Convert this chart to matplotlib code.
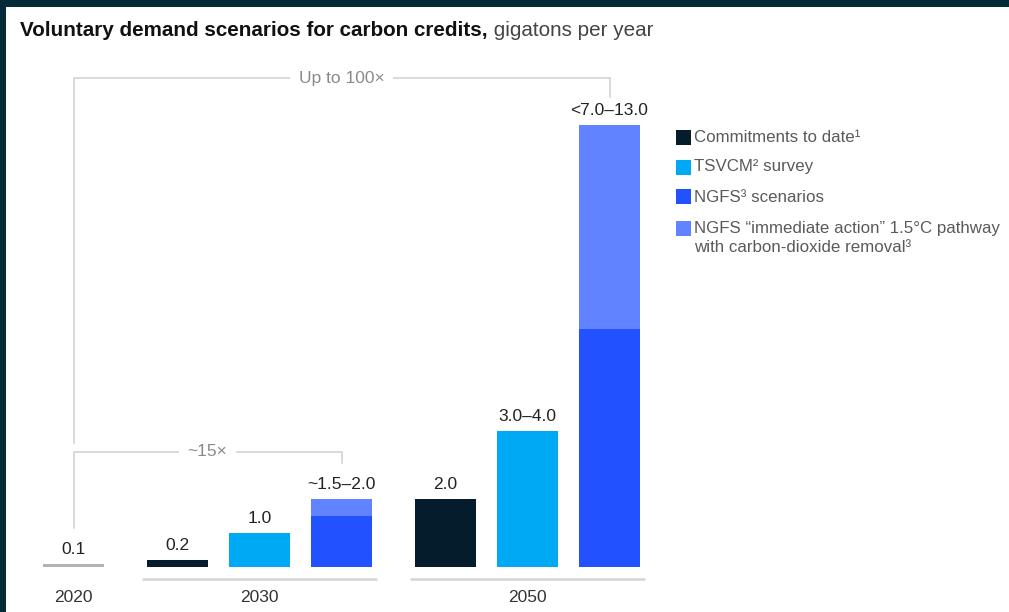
import matplotlib
matplotlib.use("Agg")
import matplotlib.pyplot as plt
from matplotlib.patches import Rectangle

# ---- data (gigatons per year) ----
years = ["2020", "2030", "2050"]
baseline_2020 = 0.1
baseline_2020_label = "0.1"

scenario_names = [
    "Commitments to date¹",
    "TSVCM² survey",
    "NGFS³ scenarios",
    "NGFS “immediate action” 1.5°C pathway\nwith carbon-dioxide removal³",
]
commitments = [0.2, 2.0]          # 2030, 2050
tsvcm_survey = [1.0, 4.0]         # upper end of range
ngfs_scenarios = [1.5, 7.0]       # lower end of NGFS range
ngfs_cdr_total = [2.0, 13.0]      # upper end incl. carbon-dioxide removal

labels_2030 = ["0.2", "1.0", "~1.5–2.0"]
labels_2050 = ["2.0", "3.0–4.0", "<7.0–13.0"]

bracket_labels = ["~15×", "Up to 100×"]

# ---- styling ----
C_COMMIT = "#051C2C"
C_TSVCM = "#00A9F4"
C_NGFS = "#2251FF"
C_CDR = "#6183FF"
C_2020 = "#B3B3B3"
C_BORDER = "#032A36"
C_LINE = "#D2D5D8"
C_BRACKET = "#D0D0D0"

FONT = ["Liberation Sans", "DejaVu Sans"]
plt.rcParams["font.family"] = FONT

W, H = 1009, 612
DPI = 100
PX_Y = 34.0        # pixels per gigaton
BASE_PX = 567      # pixel row of the zero line (from top)
SLOT_PX = 82       # pixel distance between neighbouring bars
X0_PX = 73.5       # pixel column of the 2020 bar centre

fig = plt.figure(figsize=(W / DPI, H / DPI), dpi=DPI)
fig.patch.set_facecolor(C_BORDER)
fig.patches.append(Rectangle((6 / W, 0), 1, (H - 7) / H, transform=fig.transFigure,
                             facecolor="white", edgecolor="none", zorder=-10))

ax = fig.add_axes([0, 0, 1, 1], zorder=1)
ax.set_facecolor("none")
ax.patch.set_alpha(0)
ax.set_xlim(-X0_PX / SLOT_PX, (W - X0_PX) / SLOT_PX)
ax.set_ylim(-(H - BASE_PX) / PX_Y, BASE_PX / PX_Y)
ax.axis("off")


def py(p):
    """pixel row (from top) -> data y"""
    return (BASE_PX - p) / PX_Y


bar_w = 61 / SLOT_PX
group_gap = 104 / SLOT_PX
pos_2020 = 0.0
pos_2030 = [pos_2020 + group_gap + i for i in range(3)]
pos_2050 = [pos_2030[-1] + group_gap + i for i in range(3)]

# 2020 bar
ax.bar(pos_2020, baseline_2020, width=bar_w, color=C_2020, zorder=2)

# scenario bars
for gi, pos in enumerate([pos_2030, pos_2050]):
    ax.bar(pos[0], commitments[gi], width=bar_w, color=C_COMMIT, zorder=2)
    ax.bar(pos[1], tsvcm_survey[gi], width=bar_w, color=C_TSVCM, zorder=2)
    ax.bar(pos[2], ngfs_scenarios[gi], width=bar_w, color=C_NGFS, zorder=2)
    ax.bar(pos[2], ngfs_cdr_total[gi] - ngfs_scenarios[gi], bottom=ngfs_scenarios[gi],
           width=bar_w, color=C_CDR, zorder=2)

# value labels
lab_off = 7 / PX_Y
val_kw = dict(ha="center", va="bottom", fontsize=12.5, color="#222222")
ax.text(pos_2020, baseline_2020 + lab_off, baseline_2020_label, **val_kw)
tops_2030 = [commitments[0], tsvcm_survey[0], ngfs_cdr_total[0]]
tops_2050 = [commitments[1], tsvcm_survey[1], ngfs_cdr_total[1]]
for pos, tops, labs in [(pos_2030, tops_2030, labels_2030), (pos_2050, tops_2050, labels_2050)]:
    for x, t, s in zip(pos, tops, labs):
        ax.text(x, t + lab_off, s, **val_kw)

# group baselines and year labels
line_y = py(578.5)
pad = 5 / SLOT_PX
for pos in [pos_2030, pos_2050]:
    ax.plot([pos[0] - bar_w / 2 - pad, pos[-1] + bar_w / 2 + pad], [line_y, line_y],
            color=C_LINE, lw=1.8, solid_capstyle="butt", zorder=1)
year_y = py(598)
yr_kw = dict(ha="center", va="center", fontsize=12.5, color="#333333")
ax.text(pos_2020, year_y, years[0], **yr_kw)
ax.text(pos_2030[1], year_y, years[1], **yr_kw)
ax.text(pos_2050[1], year_y, years[2], **yr_kw)

# growth brackets
br_kw = dict(color=C_BRACKET, lw=1.1, zorder=1, solid_joinstyle="miter")
txt_kw = dict(ha="center", va="center", fontsize=12.5, color="#8A8A8A", zorder=3,
              bbox=dict(facecolor="white", edgecolor="none", pad=6))

# ~15x : 2020 -> 2030 NGFS
y15 = py(452)
ax.plot([pos_2020, pos_2020, pos_2030[2], pos_2030[2]],
        [py(528), y15, y15, py(463)], **br_kw)
ax.text((pos_2020 + pos_2030[2]) / 2, y15, bracket_labels[0], **txt_kw)

# up to 100x : 2020 -> 2050 NGFS with CDR
y100 = py(78)
ax.plot([pos_2020, pos_2020, pos_2050[2], pos_2050[2]],
        [py(443), y100, y100, py(97)], **br_kw)
ax.text((pos_2020 + pos_2050[2]) / 2, y100, bracket_labels[1], **txt_kw)

# title: bold lead-in followed by the unit in regular weight
t1 = ax.text(20 / W, 1 - 30.5 / H, "Voluntary demand scenarios for carbon credits,",
             transform=fig.transFigure, fontsize=14.9, fontweight="bold",
             color="#111111", va="center", ha="left")
ax.annotate(" gigatons per year", xy=(1, 0), xycoords=t1, ha="left", va="bottom",
            fontsize=14.9, color="#444444", annotation_clip=False)

# legend
leg_colors = [C_COMMIT, C_TSVCM, C_NGFS, C_CDR]
leg_rows = [137, 167, 197, 228]
line_step = 20
sq = 15
for c, r, name in zip(leg_colors, leg_rows, scenario_names):
    ax.add_patch(Rectangle((676 / W, 1 - (r + sq / 2) / H), sq / W, sq / H,
                           transform=fig.transFigure, facecolor=c,
                           edgecolor="none", zorder=2, clip_on=False))
    for k, part in enumerate(name.split("\n")):
        ax.text(694 / W, 1 - (r + k * line_step) / H, part,
                transform=fig.transFigure, fontsize=12.2, color="#5A5A5A",
                ha="left", va="center")

fig.savefig("out.png", dpi=DPI, facecolor=fig.get_facecolor())
